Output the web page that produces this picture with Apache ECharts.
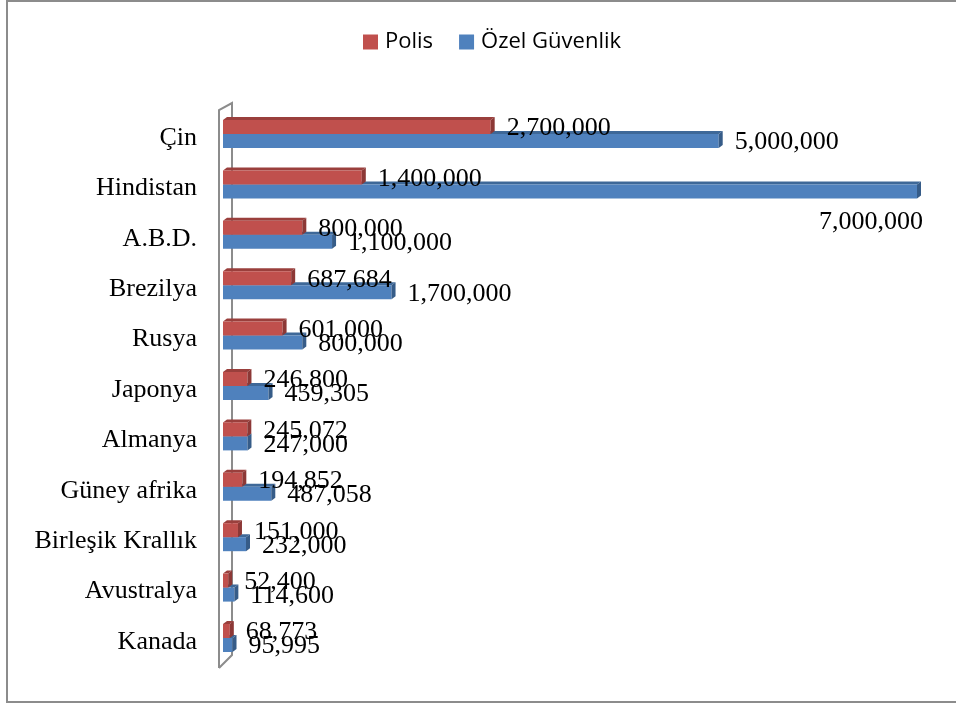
<!DOCTYPE html>
<html>
<head>
<meta charset="utf-8">
<script src="https://cdn.jsdelivr.net/npm/echarts@6/dist/echarts.min.js"></script>
<style>
  html, body { margin: 0; padding: 0; background: #ffffff; }
  #chart { width: 956px; height: 704px; }
</style>
</head>
<body>
<div id="chart"></div>
<script>
  // categories (top to bottom)
  var ulkeler = ['Çin', 'Hindistan', 'A.B.D.', 'Brezilya', 'Rusya', 'Japonya', 'Almanya',
    'Güney afrika', 'Birleşik Krallık', 'Avustralya', 'Kanada'];
  var polis = [2700000, 1400000, 800000, 687684, 601000, 246800, 245072, 194852, 151000, 52400, 68773];
  var ozelGuvenlik = [5000000, 7000000, 1100000, 1700000, 800000, 459305, 247000, 487058, 232000, 114600, 95995];
  var xMax = 7000000;

  var DX = 4, DY = 3;   // 3d depth

  function toData(arr) {
    var out = [];
    for (var i = 0; i < arr.length; i++) {
      out.push([arr[i], i]);
    }
    return out;
  }

  function textWidth(s) {
    var w = 0;
    for (var i = 0; i < s.length; i++) {
      w += s[i] === ',' ? 0.25 : 0.5;
    }
    return w * 26;
  }

  function makeRender(offTop, front, topC, sideC) {
    return function (params, api) {
      var v = api.value(0);
      var idx = api.value(1);
      var p0 = api.coord([0, idx]);
      var p1 = api.coord([v, idx]);
      var h = 14;
      var x0 = p0[0], x1 = p1[0];
      var y0 = p0[1] + offTop;
      var label = v.toLocaleString('en-US');
      var lx = x1 + 16, ly = y0 + h / 2 + 1.5, align = 'left';
      // label does not fit on the right -> put it under the bar end
      if (lx + textWidth(label) > 950) {
        lx = x1 + DX + 2;
        ly = y0 + h / 2 + 31;
        align = 'right';
      }
      return {
        type: 'group',
        children: [
          {
            type: 'polygon',
            shape: { points: [[x0, y0], [x0 + DX, y0 - DY], [x1 + DX, y0 - DY], [x1, y0]] },
            style: { fill: topC }
          },
          {
            type: 'rect',
            shape: { x: x0, y: y0, width: x1 - x0, height: h },
            style: { fill: front }
          },
          {
            type: 'polygon',
            shape: { points: [[x1, y0], [x1 + DX, y0 - DY], [x1 + DX, y0 + h - DY], [x1, y0 + h]] },
            style: { fill: sideC }
          },
          {
            type: 'text',
            z2: 10,
            style: {
              text: label,
              x: lx,
              y: ly,
              align: align,
              verticalAlign: 'middle',
              fill: '#000000',
              fontSize: 26,
              fontFamily: 'Liberation Serif'
            }
          }
        ]
      };
    };
  }

  var myChart = echarts.init(document.getElementById('chart'));
  var chartOption = {
    backgroundColor: '#ffffff',
    animation: false,
    legend: {
      top: 26,
      left: 358,
      icon: 'rect',
      itemWidth: 15,
      itemHeight: 15,
      itemGap: 26,
      textStyle: {
        fontFamily: 'Open Sans',
        fontSize: 22,
        color: '#000000',
        padding: [0, 0, 0, 2]
      },
      data: ['Polis', 'Özel Güvenlik']
    },
    graphic: [
      {
        type: 'rect',
        z: 0,
        shape: { x: 7, y: 1, width: 960, height: 701 },
        style: { fill: 'none', stroke: '#8c8c8c', lineWidth: 2 }
      },
      {
        type: 'polyline',
        z: 0,
        shape: { points: [[219, 668], [219, 110], [232, 103], [232, 655], [219, 668]] },
        style: { fill: 'none', stroke: '#8c8c8c', lineWidth: 2 }
      }
    ],
    grid: {
      left: 223,
      right: 39,
      top: 112.8,
      bottom: 36.8
    },
    xAxis: {
      type: 'value',
      min: 0,
      max: xMax,
      show: false
    },
    yAxis: {
      type: 'category',
      inverse: true,
      data: ulkeler,
      axisLine: { show: false },
      axisTick: { show: false },
      splitLine: { show: false },
      axisLabel: {
        margin: 26,
        fontFamily: 'Liberation Serif',
        fontSize: 26,
        color: '#000000'
      }
    },
    series: [
      {
        name: 'Polis',
        type: 'custom',
        z: 4,
        itemStyle: { color: '#C0504D' },
        encode: { x: 0, y: 1 },
        renderItem: makeRender(-18, '#C0504D', '#9A3F3C', '#8C3836'),
        data: toData(polis)
      },
      {
        name: 'Özel Güvenlik',
        type: 'custom',
        z: 3,
        itemStyle: { color: '#4F81BD' },
        encode: { x: 0, y: 1 },
        renderItem: makeRender(-4, '#4F81BD', '#3E6898', '#365C88'),
        data: toData(ozelGuvenlik)
      }
    ]
  };
  myChart.setOption(chartOption);
</script>
</body>
</html>
